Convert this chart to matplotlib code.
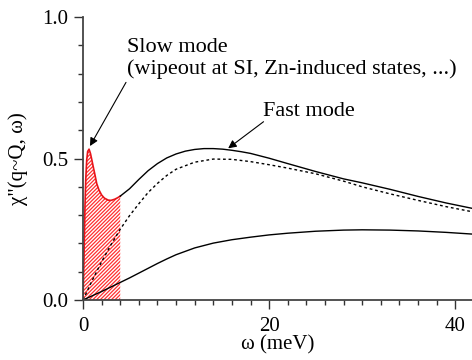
import matplotlib
matplotlib.use("Agg")
import matplotlib.pyplot as plt

plt.style.use('default')
plt.rcParams['font.family'] = ['Liberation Serif', 'DejaVu Serif']
plt.rcParams['hatch.linewidth'] = 0.9

# slow-mode region (total curve, 0-4 meV)
w_slow = [0, 0.05, 0.11, 0.21, 0.3, 0.4, 0.5, 0.65, 0.8, 0.95, 1.1, 1.3, 1.47, 1.7, 2.0, 2.3, 2.7, 3.0, 3.4, 3.7, 4.0]
chi_slow = [0, 0.07, 0.153, 0.33, 0.43, 0.495, 0.525, 0.533, 0.518, 0.495, 0.471, 0.44, 0.412, 0.39, 0.371, 0.36, 0.353, 0.352, 0.356, 0.361, 0.367]

# total curve above 4 meV
w_tot = [4, 5, 6, 7, 8, 9, 10, 11, 12, 13, 14, 15, 16, 17, 18, 20, 22, 25, 28, 30, 33, 36, 39, 41.8]
chi_tot = [0.367, 0.393, 0.426, 0.457, 0.482, 0.502, 0.516, 0.526, 0.532, 0.535, 0.535, 0.533, 0.529,
           0.524, 0.518, 0.501, 0.482, 0.454, 0.428, 0.414, 0.391, 0.366, 0.343, 0.324]

# fast mode alone (dotted)
w_fast = [0, 1, 2, 3, 4, 5, 6, 7, 8, 9, 10, 12, 14, 16, 18, 20, 22, 25, 28, 30, 33, 36, 39, 41.8]
chi_fast = [0, 0.07, 0.135, 0.195, 0.25, 0.298, 0.34, 0.38, 0.412, 0.44, 0.462, 0.487, 0.498, 0.497,
            0.489, 0.478, 0.466, 0.446, 0.42, 0.40, 0.375, 0.352, 0.33, 0.312]

# lower curve
w_low = [0, 2, 4, 5, 6, 7, 8, 9, 10, 12, 14, 16, 18, 20, 22, 25, 28, 30, 33, 36, 39, 41.8]
chi_low = [0, 0.03, 0.062, 0.078, 0.095, 0.112, 0.129, 0.145, 0.16, 0.184, 0.201, 0.213, 0.222, 0.23,
           0.236, 0.243, 0.247, 0.248, 0.247, 0.244, 0.239, 0.233]

xmajor = [0, 20, 40]
xminor = list(range(0, 42, 2))
ymajor = [0.0, 0.5, 1.0]
ylabels = ['0.0', '0.5', '1.0']
yminor = [0.1 * i for i in range(11)]

fig = plt.figure(figsize=(4.72, 3.6), dpi=100)
ax = fig.add_axes([83 / 472, 1 - 300 / 360, 1 - 83 / 472, 283 / 360])

ax.fill_between(w_slow, 0, chi_slow, facecolor='none', edgecolor='#ff3030', hatch='/////////', linewidth=0)
ax.plot(w_slow, chi_slow, color='#e8141a', lw=1.2)
ax.plot(w_tot, chi_tot, color='black', lw=1.0)
ax.plot(w_fast, chi_fast, color='black', lw=1.0, linestyle=(0, (2, 2)))
ax.plot(w_low, chi_low, color='black', lw=1.0)

ax.set_xlim(0, 41.8)
ax.set_ylim(0, 1.0)
ax.set_xticks(xmajor)
ax.set_xticks(xminor, minor=True)
ax.set_yticks(ymajor)
ax.set_yticklabels(ylabels)
ax.set_yticks(yminor, minor=True)

for s in ['top', 'right']:
    ax.spines[s].set_visible(False)
for s in ['left', 'bottom']:
    ax.spines[s].set_color('#444444')
    ax.spines[s].set_linewidth(1.3)

ax.tick_params(which='both', bottom=True, left=True, top=False, right=False)
ax.tick_params(which='major', direction='out', length=6.5, width=1.0, color='#333333', labelsize=15)
ax.tick_params(which='minor', direction='out', length=3.5, width=1.0, color='#333333')
ax.tick_params(axis='x', which='major', pad=6)
ax.tick_params(axis='y', which='major', pad=4)

ax.set_xlabel('ω (meV)', fontsize=15, labelpad=-1)
ax.set_ylabel('χ"(q~Q, ω)', fontsize=15, labelpad=10)

arrow = dict(arrowstyle='-|>', color='black', lw=0.8, mutation_scale=12, shrinkA=0, shrinkB=0)
ax.text(4.76, 0.877, 'Slow mode', fontsize=16, va='baseline')
ax.text(4.76, 0.7975, '(wipeout at SI, Zn-induced states, ...)', fontsize=16, va='baseline')
ax.annotate('', xy=(0.75, 0.544), xytext=(4.62, 0.769), arrowprops=arrow)
ax.text(19.3, 0.651, 'Fast mode', fontsize=16, va='baseline')
ax.annotate('', xy=(15.6, 0.536), xytext=(19.4, 0.630), arrowprops=arrow)

fig.savefig('out.png', dpi=100)
